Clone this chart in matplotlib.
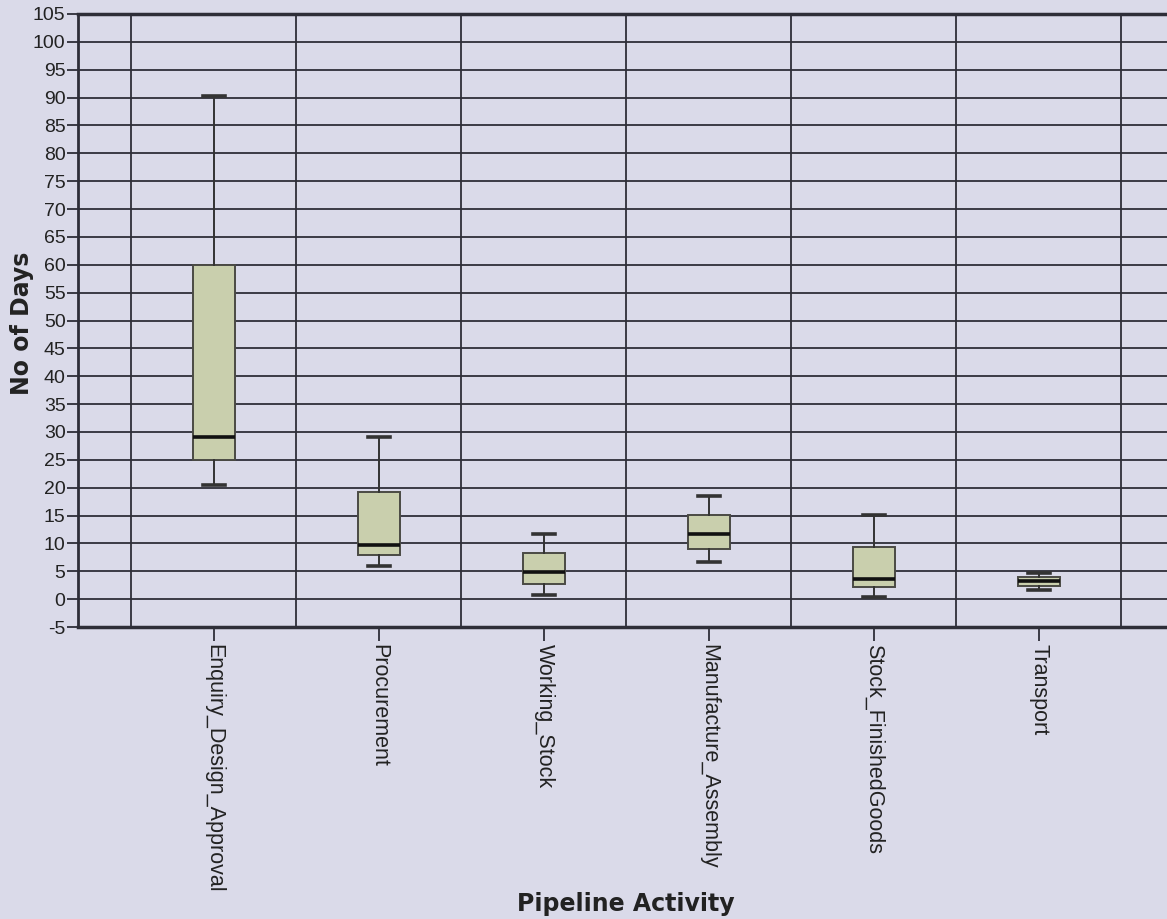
import numpy as np
import matplotlib.pyplot as plt

plt.rcParams['font.family'] = ['Liberation Sans', 'DejaVu Sans']

# pipeline activities and their box-plot summaries (days)
activities = ['Enquiry_Design_Approval', 'Procurement', 'Working_Stock',
              'Manufacture_Assembly', 'Stock_FinishedGoods', 'Transport']
whisker_low = [20.4, 6.0, 0.7, 6.6, 0.4, 1.7]
q1 = [24.9, 7.9, 2.8, 9.0, 2.2, 2.3]
median = [29.1, 9.7, 4.8, 11.7, 3.7, 3.2]
q3 = [60.0, 19.3, 8.2, 15.1, 9.4, 3.9]
whisker_high = [90.3, 29.1, 11.6, 18.5, 15.1, 4.7]

yticks = list(range(-5, 106, 5))

bg = '#dadae9'
box_fill = '#c9cfad'
grid_col = '#2e2e38'

fig = plt.figure(figsize=(11.67, 9.19), dpi=100)
fig.patch.set_facecolor(bg)
ax = fig.add_axes([78 / 1167, 292 / 919, 1089 / 1167, 613 / 919])
ax.set_facecolor(bg)

stats = []
for i, name in enumerate(activities):
    stats.append({'label': name, 'whislo': whisker_low[i], 'q1': q1[i],
                  'med': median[i], 'q3': q3[i], 'whishi': whisker_high[i],
                  'fliers': []})

xs = np.arange(len(activities))
ax.bxp(stats, positions=xs, widths=0.25, patch_artist=True,
       boxprops=dict(facecolor=box_fill, edgecolor='#4a4a44', linewidth=1.4),
       medianprops=dict(color='#111111', linewidth=2.6),
       whiskerprops=dict(color='#333333', linewidth=1.4),
       capprops=dict(color='#333333', linewidth=2.6),
       capwidths=0.13, showfliers=False, zorder=3)

# horizontal grid at every tick, vertical lines between categories
for y in yticks:
    ax.axhline(y, color=grid_col, lw=1.3, zorder=1)
for x in np.arange(-0.5, len(activities) + 0.5, 1.0):
    ax.axvline(x, color=grid_col, lw=1.3, zorder=1)

ax.set_xlim(-0.824, 5.776)
ax.set_ylim(-5, 105)
ax.set_yticks(yticks)
ax.set_yticklabels([str(t) for t in yticks], fontsize=14, color='#222222')
ax.set_xticks(xs)
ax.set_xticklabels(activities, rotation=-90, fontsize=15.5, color='#222222',
                   va='top', ha='center')
ax.tick_params(axis='y', length=8, width=1.3, color=grid_col, pad=1)
ax.tick_params(axis='x', length=10, width=1.3, color=grid_col, pad=2)

ax.spines['right'].set_visible(False)
ax.spines['left'].set_linewidth(2)
ax.spines['bottom'].set_linewidth(2.5)
ax.spines['top'].set_linewidth(2.5)
for side in ['left', 'bottom', 'top']:
    ax.spines[side].set_color(grid_col)

fig.text(22 / 1167, 1 - 323 / 919, 'No of Days', rotation=90, fontsize=17,
         family='DejaVu Sans', fontweight='bold', color='#222222',
         ha='center', va='center')
fig.text(626 / 1167, 1 - 904 / 919, 'Pipeline Activity', fontsize=17,
         family='DejaVu Sans', fontweight='bold', color='#222222',
         ha='center', va='center')

fig.savefig('out.png', dpi=100, facecolor=bg)
